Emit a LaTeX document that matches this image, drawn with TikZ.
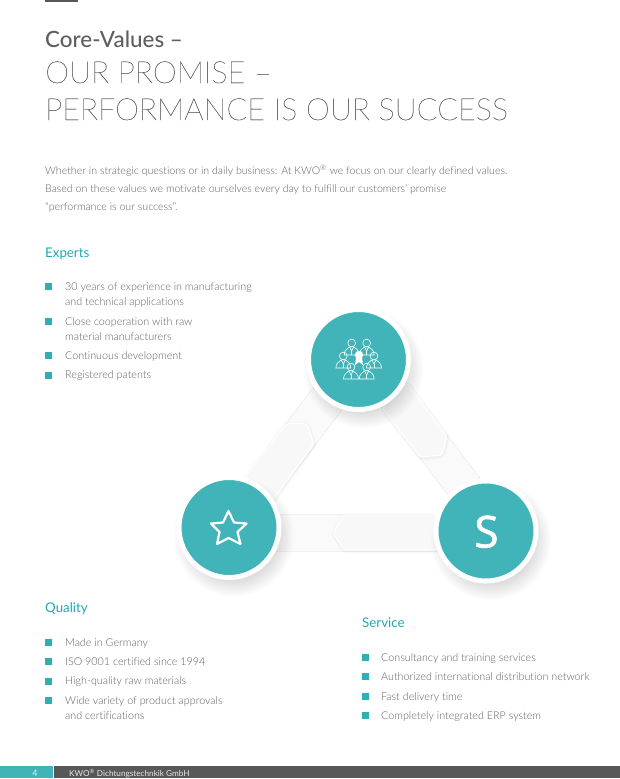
\documentclass[tikz,border=0pt]{standalone}
\usepackage{fontspec}
\setmainfont[Ligatures=NoCommon]{Lato Light}
\newfontfamily\headfont[Ligatures=NoCommon]{Lato}
\newfontfamily\medfont[Ligatures=NoCommon]{Lato Medium}
\newfontfamily\thinfont[Ligatures=NoCommon,FakeBold=0.35]{Lato Thin}
\newfontfamily\sfont[FakeBold=1.5]{Open Sans}
\usetikzlibrary{calc}
\definecolor{teal1}{HTML}{41B4B9}
\definecolor{sqteal}{HTML}{30AEB5}
\definecolor{headteal}{HTML}{1FA9B3}
\definecolor{bodyg}{HTML}{5F5F61}
\definecolor{darkbar}{HTML}{58585A}
\definecolor{bandf}{HTML}{FAFAFA}
\definecolor{bande}{HTML}{F0F0F0}
\definecolor{piecef}{HTML}{F8F8F8}
\tikzset{
 x=1pt,y=-1pt,
 txt/.style={anchor=base west,inner sep=0pt,text=bodyg,font=\fontsize{10.75}{15}\selectfont},
 para/.style={anchor=base west,inner sep=0pt,text=bodyg,font=\fontsize{10.6}{15}\selectfont},
 head/.style={anchor=base west,inner sep=0pt,text=headteal,font=\headfont\fontsize{13.3}{17}\selectfont},
 title/.style={anchor=base west,inner sep=0pt,text=bodyg,font=\thinfont\fontsize{30.5}{36}\selectfont},
 sq/.style={fill=sqteal,draw=none,minimum size=7pt,inner sep=0pt},
 band/.style={fill=bandf,draw=bande,line width=.8pt,line join=round},
 piece/.style={fill=piecef,draw=white,line width=1.2pt,line join=round,rounded corners=2pt},
 pshade/.style={draw=black,opacity=.008,line join=round,rounded corners=2pt},
 disc/.style={circle,fill=teal1,draw=white,line width=5pt,minimum size=100pt,inner sep=0pt},
 ic/.style={draw=white,line width=.6pt,fill=none}
}
\newcommand{\softshadow}[3]{%
  \foreach \k in {0,...,11}{\fill[black,opacity=.012] ($(#1,#2)+(5,9)$) circle ({#3+8-\k*1.5});}}
\newcommand{\person}[2]{%
  \draw[ic] (#1,#2) circle (3.9);
  \draw[ic] ($(#1,#2)+(-7.5,12)$) .. controls ($(#1,#2)+(-7.5,7)$) and ($(#1,#2)+(-4,5.5)$) .. ($(#1,#2)+(-2,3.8)$)
     -- ($(#1,#2)+(2,3.8)$) .. controls ($(#1,#2)+(4,5.5)$) and ($(#1,#2)+(7.5,7)$) .. ($(#1,#2)+(7.5,12)$) -- cycle;
  \draw[ic] ($(#1,#2)+(-2,4)$) -- ($(#1,#2)+(0,8)$) -- ($(#1,#2)+(2,4)$);
  \draw[ic] ($(#1,#2)+(0,8)$) -- ($(#1,#2)+(0,12)$);}
\newcommand{\pieceshape}[1]{%
  \foreach \w in {1,2,3,4,5,6}{\draw[pshade,line width=\w pt,shift={(.5,1)}] #1;}
  \draw[piece] #1;}
\begin{document}
\begin{tikzpicture}
\useasboundingbox (0,0) rectangle (620,779);
\fill[white] (0,0) rectangle (620,779);
\fill[darkbar] (45,0) rectangle (78,2);
\node[anchor=base west,inner sep=0pt,text=bodyg,font=\medfont\fontsize{22.4}{26}\selectfont] (t1) at (45,47) {Core-Values –};
\node[title] (t2) at (45,83) {OUR PROMISE –};
\node[title] (t3) at (45,120) {PERFORMANCE IS OUR SUCCESS};
\node[para] (p1) at (45,174) {Whether in strategic questions or in daily business: At KWO\textsuperscript{®} we focus on our clearly defined values.};
\node[para] (p2) at (45,192) {Based on these values we motivate ourselves every day to fulfill our customers’ promise};
\node[para] (p3) at (45,210) {“performance is our success”.};
\node[head] (h1) at (45,257) {Experts};
\node[sq] (b1) at (48.5,286) {};
\node[sq] (b2) at (48.5,321) {};
\node[sq] (b3) at (48.5,355) {};
\node[sq] (b4) at (48.5,375) {};
\node[txt] (e1) at (65,290.5) {30 years of experience in manufacturing};
\node[txt] (e1b) at (65,305.5) {and technical applications};
\node[txt] (e2) at (65,325.5) {Close cooperation with raw};
\node[txt] (e2b) at (65,340.5) {material manufacturers};
\node[txt] (e3) at (65,359.5) {Continuous development};
\node[txt] (e4) at (65,378.5) {Registered patents};
% bands
\draw[band] (245,477) -- (313,388) -- (342,410) -- (273,500) -- cycle;
\draw[band] (407,383) -- (480,478) -- (448,495) -- (382,408) -- cycle;
\draw[band] (275,514) -- (440,514) -- (440,551) -- (275,551) -- cycle;
\pieceshape{(245,477) -- (287,423) -- (307,424) -- (314,444) -- (273,500) -- cycle}
\pieceshape{(407,383) -- (447,436) -- (442,455) -- (420,457) -- (382,408) -- cycle}
\pieceshape{(445,515) -- (344,515) -- (333,533) -- (344,550) -- (445,550) -- cycle}
% discs
\softshadow{358.5}{359.5}{52}
\softshadow{229}{527.5}{52}
\softshadow{486}{531}{52}
\node[disc] (top) at (358.5,359.5) {};
\node[disc] (left) at (229,527.5) {};
\node[disc] (right) at (486,531) {};
% people icon
\person{351.7}{343}
\person{366.7}{343}
\person{343.3}{356}
\person{374}{356}
\person{351}{367}
\person{366.7}{367}
\fill[white] (359,355) circle (4.2);
\fill[white] (356,358) -- (362,358) -- (363,365) -- (359,362) -- (355,365) -- cycle;
% star
\draw[white,line width=2.2pt,line join=round] (228.5,511) -- (234,522.5) -- (246.5,523.5) -- (237.5,532) -- (240.5,544) -- (228.5,538) -- (217,544) -- (219.5,532) -- (211,523.5) -- (223,522.5) -- cycle;
\node[anchor=base,inner sep=0pt,text=white,font=\sfont\fontsize{44}{46}\selectfont] (s) at (486.5,547.5) {S};
% lower lists
\node[head] (h2) at (45,612) {Quality};
\node[sq] (q1) at (48.5,642) {};
\node[sq] (q2) at (48.5,661) {};
\node[sq] (q3) at (48.5,681) {};
\node[sq] (q4) at (48.5,700) {};
\node[txt] (qt1) at (65,646.5) {Made in Germany};
\node[txt] (qt2) at (65,665.5) {ISO 9001 certified since 1994};
\node[txt] (qt3) at (65,684.5) {High-quality raw materials};
\node[txt] (qt4) at (65,704.5) {Wide variety of product approvals};
\node[txt] (qt4b) at (65,719.5) {and certifications};
\node[head] (h3) at (362,627) {Service};
\node[sq] (s1) at (365,657) {};
\node[sq] (s2) at (365,676) {};
\node[sq] (s3) at (365,696) {};
\node[sq] (s4) at (365,715) {};
\node[txt] (st1) at (381,661.5) {Consultancy and training services};
\node[txt] (st2) at (381,680.5) {Authorized international distribution network};
\node[txt] (st3) at (381,700.5) {Fast delivery time};
\node[txt] (st4) at (381,719.5) {Completely integrated ERP system};
% footer
\fill[teal1] (0,766) rectangle (52.5,778);
\fill[darkbar] (54,766) rectangle (620,778);
\node[anchor=base,inner sep=0pt,text=white!80!teal1,font=\headfont\fontsize{9}{12}\selectfont] (pg) at (35,776) {4};
\node[anchor=base west,inner sep=0pt,text=white!85!darkbar,font=\headfont\fontsize{8.2}{12}\selectfont] (ft) at (69,776) {KWO\textsuperscript{®} Dichtungstechnkik GmbH};
\end{tikzpicture}
\end{document}
